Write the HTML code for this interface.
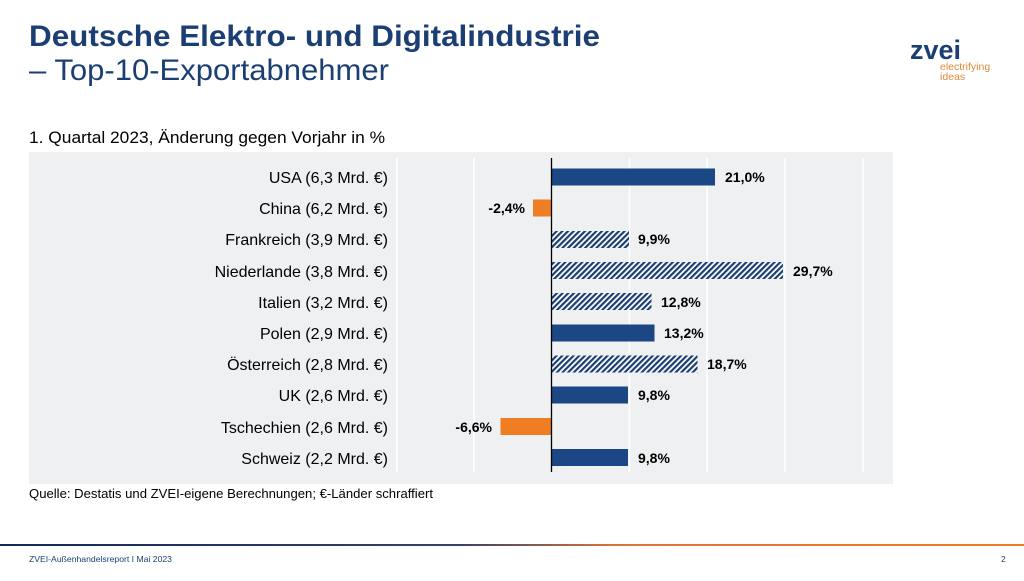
<!DOCTYPE html>
<html><head><meta charset="utf-8"><style>
body{margin:0;width:1024px;height:576px;background:#fff;overflow:hidden;font-family:"Liberation Sans",Arial,sans-serif}
</style></head><body>
<svg width="1024" height="576" xmlns="http://www.w3.org/2000/svg" font-family="Liberation Sans, Arial, sans-serif">
<defs>
<pattern id="h" patternUnits="userSpaceOnUse" width="4" height="4" patternTransform="rotate(45)">
<rect width="4" height="4" fill="#fff"/><rect width="2.2" height="4" fill="#1b3f73"/>
</pattern>
<linearGradient id="g" x1="0" x2="1"><stop offset="0" stop-color="#0f2a5c"/><stop offset="0.45" stop-color="#3a3f6a"/><stop offset="0.6" stop-color="#d8763a"/><stop offset="1" stop-color="#ef7d22"/></linearGradient>
</defs>
<text x="29" y="46" font-size="30" font-weight="bold" fill="#1b3f73" textLength="571" lengthAdjust="spacingAndGlyphs">Deutsche Elektro- und Digitalindustrie</text>
<text x="29" y="80" font-size="30" fill="#1b3f73" textLength="360" lengthAdjust="spacingAndGlyphs">– Top-10-Exportabnehmer</text>
<text x="910" y="59" font-size="27" font-weight="bold" fill="#1b3f73">zvei</text>
<text x="940" y="70" font-size="10.5" fill="#e08a3a">electrifying</text>
<text x="940" y="80" font-size="10.5" fill="#e08a3a">ideas</text>
<text x="29" y="143" font-size="16.5" fill="#000" textLength="356" lengthAdjust="spacingAndGlyphs">1. Quartal 2023, Änderung gegen Vorjahr in %</text>
<rect x="29" y="152" width="864" height="332" fill="#eef0f1"/>
<g stroke="#fff" stroke-width="1.5">
<line x1="397" y1="158" x2="397" y2="472"/><line x1="474" y1="158" x2="474" y2="472"/>
<line x1="629.5" y1="158" x2="629.5" y2="472"/><line x1="707" y1="158" x2="707" y2="472"/>
<line x1="785" y1="158" x2="785" y2="472"/><line x1="863" y1="158" x2="863" y2="472"/>
</g>
<g font-size="16" text-anchor="end" fill="#000">
<text x="388" y="183">USA (6,3 Mrd. €)</text>
<text x="388" y="214">China (6,2 Mrd. €)</text>
<text x="388" y="245">Frankreich (3,9 Mrd. €)</text>
<text x="388" y="277">Niederlande (3,8 Mrd. €)</text>
<text x="388" y="308">Italien (3,2 Mrd. €)</text>
<text x="388" y="339">Polen (2,9 Mrd. €)</text>
<text x="388" y="370">Österreich (2,8 Mrd. €)</text>
<text x="388" y="401">UK (2,6 Mrd. €)</text>
<text x="388" y="433">Tschechien (2,6 Mrd. €)</text>
<text x="388" y="464">Schweiz (2,2 Mrd. €)</text>
</g>
<rect x="552" y="168.5" width="163" height="17" fill="#1b4785"/>
<rect x="533" y="199.5" width="19" height="17" fill="#ef7d22"/>
<rect x="552" y="231" width="77" height="17" fill="url(#h)"/>
<rect x="552" y="262" width="231" height="17" fill="url(#h)"/>
<rect x="552" y="293" width="99.5" height="17" fill="url(#h)"/>
<rect x="552" y="324.5" width="102.5" height="17" fill="#1b4785"/>
<rect x="552" y="355.5" width="145.5" height="17" fill="url(#h)"/>
<rect x="552" y="386.5" width="76" height="17" fill="#1b4785"/>
<rect x="500.5" y="418" width="51.5" height="17" fill="#ef7d22"/>
<rect x="552" y="449" width="76" height="17" fill="#1b4785"/>
<line x1="551.5" y1="158" x2="551.5" y2="472" stroke="#000" stroke-width="1.3"/>
<g font-size="14" font-weight="bold" fill="#000">
<text x="725" y="182">21,0%</text>
<text x="525" y="213" text-anchor="end">-2,4%</text>
<text x="638" y="244">9,9%</text>
<text x="793" y="276">29,7%</text>
<text x="661" y="307">12,8%</text>
<text x="664" y="338">13,2%</text>
<text x="707" y="369">18,7%</text>
<text x="638" y="400">9,8%</text>
<text x="492" y="432" text-anchor="end">-6,6%</text>
<text x="638" y="463">9,8%</text>
</g>
<text x="29" y="498" font-size="13" fill="#000" textLength="404" lengthAdjust="spacingAndGlyphs">Quelle: Destatis und ZVEI-eigene Berechnungen; €-Länder schraffiert</text>
<rect x="0" y="544" width="1024" height="2" fill="url(#g)"/>
<text x="29" y="562" font-size="8.5" fill="#1b3f73" textLength="143" lengthAdjust="spacingAndGlyphs">ZVEI-Außenhandelsreport I Mai 2023</text>
<text x="1001" y="562" font-size="8.5" fill="#1b3f73">2</text>
</svg>
</body></html>
